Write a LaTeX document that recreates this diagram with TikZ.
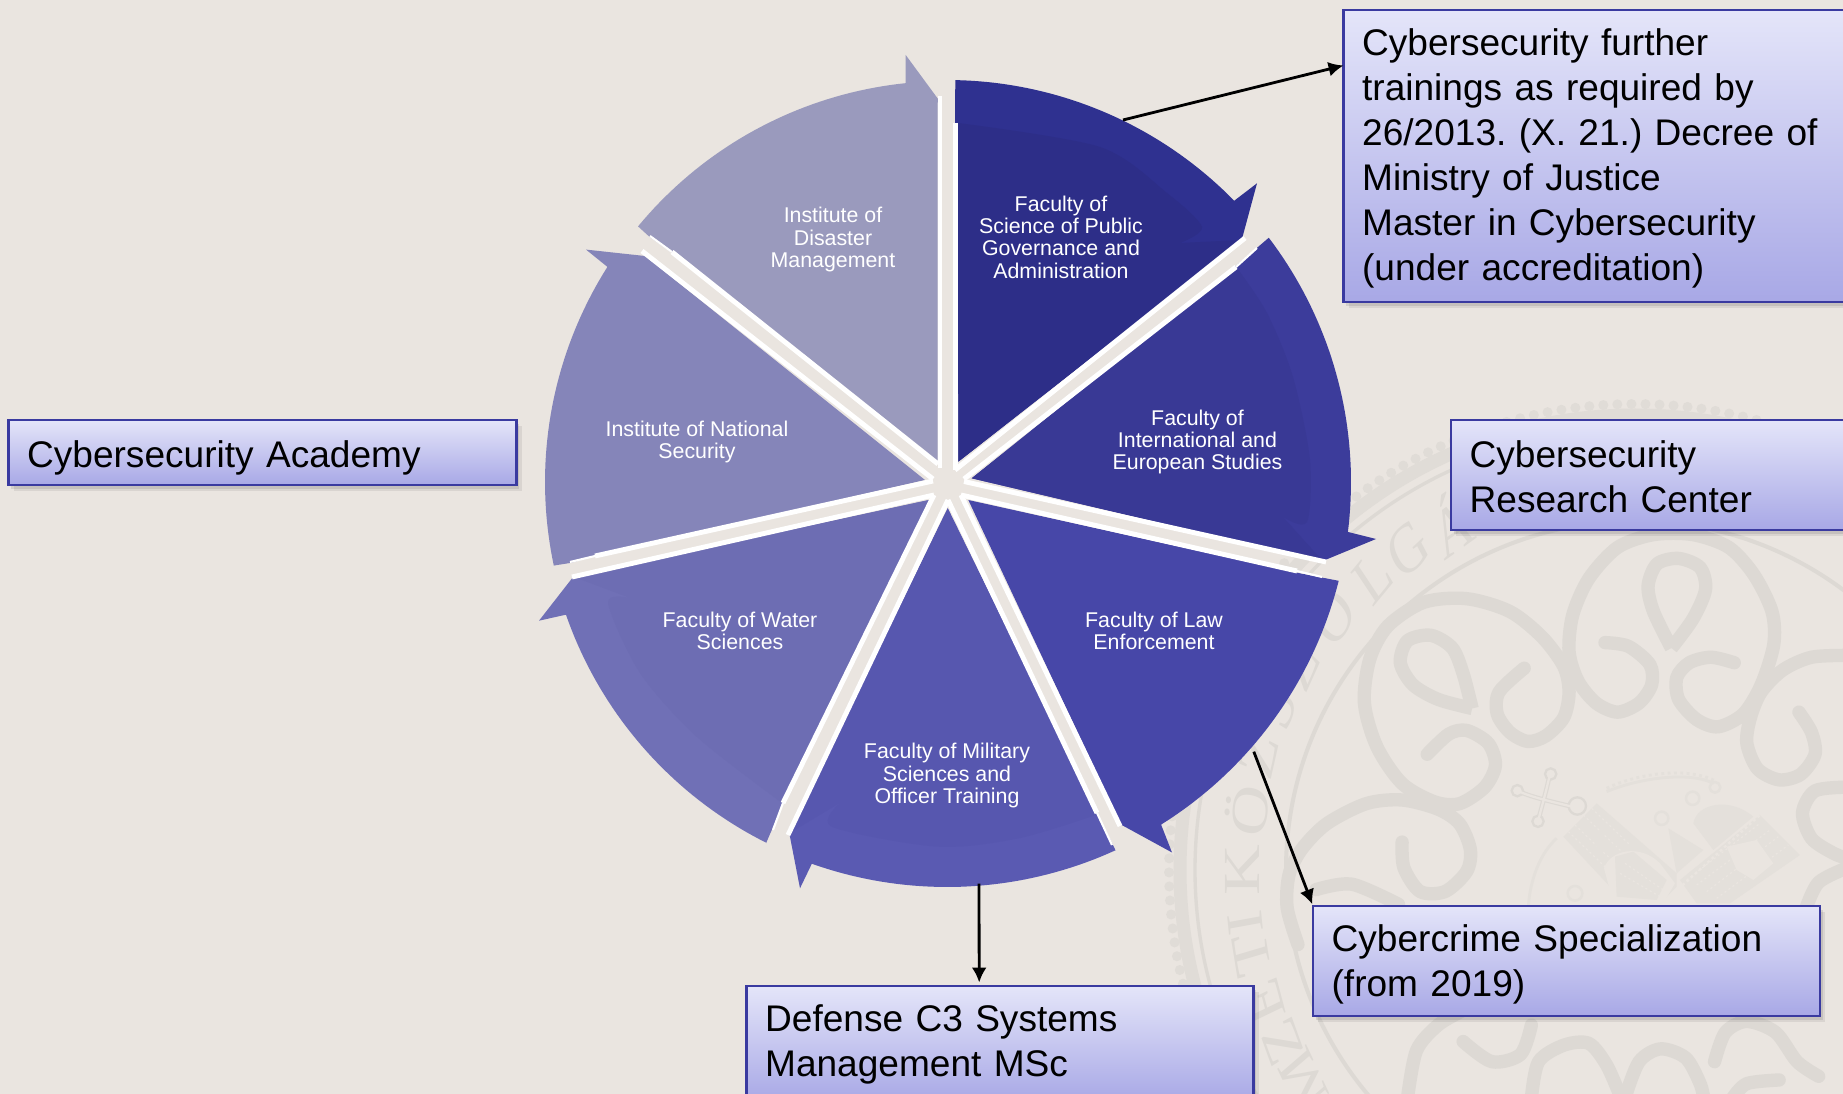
\documentclass[tikz,border=0pt]{standalone}
\usepackage{fontspec}
\setmainfont{Liberation Sans}
\newfontfamily\sealfont{Liberation Serif}
\usetikzlibrary{arrows.meta,calc}
\definecolor{bgc}{HTML}{EAE5E0}
\definecolor{sealc}{HTML}{DDD9D4}
\definecolor{bandc}{HTML}{E0DCD7}
\definecolor{crownc}{HTML}{E4E0DB}
\definecolor{segA}{HTML}{2F3190}\definecolor{segAi}{HTML}{2D2E88}
\definecolor{segB}{HTML}{3C3C9B}\definecolor{segBi}{HTML}{393995}
\definecolor{segC}{HTML}{4747A8}
\definecolor{segD}{HTML}{5A5AB2}\definecolor{segDi}{HTML}{5757AF}
\definecolor{segE}{HTML}{7070B6}\definecolor{segEi}{HTML}{6D6DB3}
\definecolor{segF}{HTML}{8585B9}
\definecolor{segG}{HTML}{9A9ABD}
\definecolor{boxline}{HTML}{3A3AA0}
\definecolor{boxtop}{HTML}{E4E5F9}
\definecolor{boxbot}{HTML}{A8A8E6}
\tikzset{
  bluebox/.style 2 args={rectangle,anchor=north west,outer sep=0pt,inner ysep=0pt,inner xsep=10.6pt,
    minimum width=#1*0.02cm,minimum height=#2*0.02cm,text width=#1*0.02cm-21.2pt,align=left,
    font=\fontsize{21.1}{25.6}\selectfont\frenchspacing,text=black,
    draw=boxline,line width=1.4pt,top color=boxtop,bottom color=boxbot,
    preaction={fill=black,fill opacity=.07,draw=none,transform canvas={shift={(3pt,-3.6pt)}}},
    preaction={fill=black,fill opacity=.09,draw=none,transform canvas={shift={(1.6pt,-2.2pt)}}}},
  seglabel/.style={align=center,text=white,inner sep=0pt,font=\fontsize{12.15}{12.7}\selectfont},
  strip/.style={draw=white,line width=2.8pt},
  thinstrip/.style={draw=white,line width=1.2pt},
  link/.style={draw=black,line width=1.6pt,-{Latex[length=8.5pt,width=8.5pt]}},
  curl/.style={draw=sealc,line width=7.6pt,line cap=round,line join=round},
  drop/.style={draw=sealc,line width=7.6pt,line join=miter},
  sealletter/.style={text=sealc,inner sep=0pt,font=\fontsize{40}{40}\sealfont,xscale=.74,transform shape}
}
\begin{document}
\begin{tikzpicture}[x=0.02cm,y=-0.02cm]
\useasboundingbox (0,0) rectangle (1843,1094);
\clip (0,0) rectangle (1843,1094);
\fill[bgc] (0,0) rectangle (1843,1094);
% ---- seal watermark
\draw[bandc,line width=5.7pt,dash pattern=on 0pt off 8pt,line cap=round] (1635,870) circle (466);
\draw[bandc,line width=7.4pt] (1635,870) circle (455);
\draw[sealc,line width=1.9pt] (1635,870) circle (440);
\draw[sealc,line width=2.3pt] (1635,870) circle (349);
\foreach \l/\a in {M/212.5,Z/206,E/199.6,T/192.4,I/187.7,K/180,Ö/171.2,Z/163,S/155.5,Z/148.6,O/140,L/131.9,G/125.3,Á/118}{
  \node[sealletter,rotate=\a-90] at ({1635+393*cos(\a)},{870-393*sin(\a)}) {\l};
}
\begin{scope}[shift={(1280,520)},xscale=0.3591,yscale=0.3660]
\draw[curl] plot[smooth] coordinates {(410,640)(470,585)(520,575)(580,610)(600,670)(570,730)(500,775)(430,770)(340,720)(270,620)(235,500)(250,380)(300,290)(400,225)(520,215)(640,250)(730,320)(790,400)(805,470)(790,540)(740,590)(690,605)(640,580)(605,530)(610,470)(680,405)};
\draw[drop] plot[smooth] coordinates {(535,515)(440,490)(370,450)(335,390)(355,330)(420,315)(480,350)(510,420)(535,515)};
\draw[curl] plot[smooth] coordinates {(905,335)(970,345)(1030,395)(1035,450)(1000,500)(940,525)(880,500)(830,440)(805,360)(815,260)(860,160)(940,75)(1040,40)(1150,40)(1250,75)(1320,150)(1370,250)(1375,340)(1340,450)(1290,530)(1220,565)(1160,545)(1110,490)(1105,430)(1140,390)(1200,375)(1265,390)};
\draw[drop] plot[smooth] coordinates {(1090,350)(1040,250)(1025,180)(1050,120)(1110,105)(1170,130)(1185,190)(1150,270)(1090,350)};
\draw[curl] plot[smooth] coordinates {(1445,525)(1480,580)(1490,640)(1450,695)(1390,710)(1330,680)(1300,610)(1310,540)(1340,470)(1400,410)(1480,375)(1580,370)};
\draw[curl] plot[smooth] coordinates {(1580,730)(1490,740)(1455,800)(1480,870)(1540,910)(1580,925)};
\draw[curl] plot[smooth] coordinates {(1580,950)(1500,990)(1465,1060)};
\draw[curl] plot[smooth] coordinates {(340,880)(345,950)(390,1015)(460,1015)(520,960)(530,900)(500,830)(440,790)(340,765)(240,775)(130,830)(60,900)(25,970)(20,1060)(50,1160)};
\draw[curl] plot[smooth] coordinates {(100,1010)(200,995)(330,1050)};
\draw[curl] plot[smooth] coordinates {(510,1425)(590,1480)(670,1460)(700,1380)};
\draw[curl] plot[smooth] coordinates {(355,1580)(380,1450)(440,1380)(510,1340)};
\draw[curl] plot[smooth] coordinates {(700,1580)(720,1480)(790,1435)(860,1430)(910,1490)(950,1580)};
\draw[curl] plot[smooth] coordinates {(960,1580)(1000,1480)(1060,1445)(1130,1470)(1170,1540)(1180,1580)};
\draw[curl] plot[smooth] coordinates {(1210,1480)(1240,1400)(1300,1370)(1380,1400)(1440,1480)(1500,1520)};
\draw[curl] plot[smooth] coordinates {(1260,1580)(1300,1540)(1390,1530)};
\end{scope}
% crown and cross
\begin{scope}[shift={(1500,740)},scale=0.3333]
\draw[sealc,line width=2.6pt,line cap=round] (52,152)..controls (100,175) and (180,190)..(235,205);
\draw[sealc,line width=2.6pt,line cap=round] (150,100)..controls (140,150) and (125,200)..(114,244);
\draw[sealc,line width=1.3pt,fill=bgc] (52,152) circle (17) (232,198) circle (26) (152,102) circle (17) (114,244) circle (17);
\draw[bgc,line width=1.3pt,line cap=round] (52,152)..controls (100,175) and (180,190)..(235,205);
\draw[bgc,line width=1.3pt,line cap=round] (150,100)..controls (140,150) and (125,200)..(114,244);
\fill[crownc] (190,290)--(290,190)--(530,400)--(530,440)--(480,490)--(330,440)--cycle;
\fill[bgc] (312,385)..controls (330,330) and (420,310)..(480,370)--(525,430)--(490,490)--(340,490)--cycle;
\fill[crownc] (345,350)--(400,335)--(500,420)--(470,480)--(350,470)--cycle;
\fill[crownc] (540,420)--(780,225)--(900,345)--(690,490)--(590,490)--cycle;
\fill[crownc] (505,265)--(610,330)--(530,400)--cycle;
\fill[crownc] (580,250)..controls (590,190) and (690,170)..(760,230)--(640,330)--cycle;
\fill[bgc] (680,320)--(770,300)--(820,370)--(760,420)--(710,390)--cycle;
\foreach \sx/\sy/\ex/\ey in {205/275/320/385,225/255/340/365,250/225/365/335,275/205/390/315,360/400/480/470,375/370/490/450,560/420/780/250,590/435/810/270,620/455/835/290,650/475/865/315}{
  \draw[bgc,line width=.7pt,dash pattern=on 1.2pt off 1.6pt] (\sx,\sy) -- (\ex,\ey);
}
\draw[bgc,line width=1.4pt,dash pattern=on 1.6pt off 1.6pt] (510,470) -- (780,225);
\draw[crownc,line width=1.6pt] (320,155)..controls (400,120) and (560,90)..(640,130);
\draw[crownc,line width=1.6pt,dotted] (320,145)..controls (400,105) and (560,75)..(650,125);
\draw[crownc,line width=1.6pt] (170,295)..controls (120,340) and (90,420)..(85,500);
\draw[crownc,line width=1.4pt] (485,235) circle (20) (578,175) circle (20) (645,142) circle (16) (225,460) circle (22) (318,305) circle (28);
\end{scope}
% ---- wheel segments
\fill[segA] (955,123) -- (955.3,81) -- plot[domain=88.8:44.4,samples=40] ({947+402*cos(\x)},{482-402*sin(\x)}) -- (1257,183.3) -- (1241.7,240) -- (958.3,461.7) -- (958,123) -- cycle;
\fill[segAi] (958.3,461.7) -- plot[smooth] coordinates {(958,123)(1100,147)(1167,193)(1202,227)(1180,243)} -- (1241.7,240) -- cycle;
\fill[segB] (971.7,478.3) -- (1235,266.7) -- (1267.3,239) -- plot[domain=37.2:-7.1,samples=40] ({947+404*cos(\x)},{482-404*sin(\x)}) -- (1376,539) -- (1322.7,561) -- cycle;
\fill[segBi] (971.7,478.3) -- plot[smooth] coordinates {(1237,268)(1267,313)(1293,377)(1310,460)(1307,522)(1283,517)} -- (1322.7,561) -- cycle;
\fill[segC] (968.3,500) -- (1297.3,572.8) -- (1338.7,580.8) -- plot[domain=-14.2:-58,samples=40] ({947+404*cos(\x)},{482-404*sin(\x)}) -- (1172,852.5) -- (1121,824.6) -- cycle;
\fill[segD] (947.7,508.3) -- (1097,812.6) -- (1115.6,850.5) -- plot[domain=-65.4:-109.5,samples=40] ({947+405*cos(\x)},{482-405*sin(\x)}) -- (800,888.3) -- (789.3,833.3) -- cycle;
\fill[segDi] (947.7,508.3) -- (1097,812.6) -- plot[smooth] coordinates {(1097,814.6)(1020,838)(938,846.7)(831.7,826.7)(841.7,801.7)} -- (789.3,833.3) -- cycle;
\fill[segE] (929,500) -- (783.3,803.3) -- (766,843.3) -- plot[domain=243.4:199.2,samples=40] ({947+403.5*cos(\x)},{482-403.5*sin(\x)}) -- (539,620.7) -- (573.3,576.7) -- cycle;
\fill[segEi] (929,500) -- (783.3,803.3) -- plot[smooth] coordinates {(782,803)(697,737)(640,673)(608,603)(630,598)} -- (573.3,576.7) -- cycle;
\fill[segF] (925,480) -- (645,256) -- (586,249.6) -- (607.3,266.8) -- plot[domain=147.6:192,samples=40] ({947+402*cos(\x)},{482-402*sin(\x)}) -- (570,563) -- (595,556) -- cycle;
\fill[segG] (937.7,461.4) -- (937.7,102.5) -- (939.3,100.7) -- (905.7,55) -- (905.7,82.9) -- plot[domain=95.9:140.4,samples=40] ({947+401*cos(\x)},{482-401*sin(\x)}) -- (649,236.4) -- (671.7,252.5) -- cycle;
% ---- white separators
\draw[strip] (955.5,123) -- (955.5,470);
\draw[strip] (955,470) -- (1245,238);
\draw[strip] (964,479) -- (1236,267);
\draw[thinstrip] (1236,267) -- (1257,248);
\draw[strip] (964,481.5) -- (1326,562);
\draw[strip] (961,495) -- (1297,571);
\draw[thinstrip] (1297,571) -- (1322,577);
\draw[strip] (961,495) -- (1120,826);
\draw[strip] (948,500) -- (1097,813);
\draw[thinstrip] (1097,813) -- (1112,845);
\draw[strip] (948,500) -- (788,835);
\draw[strip] (934,495) -- (783,803);
\draw[thinstrip] (783,803) -- (773,830);
\draw[strip] (934,495) -- (572,577);
\draw[strip] (933,481) -- (595,556);
\draw[thinstrip] (595,556) -- (570,562);
\draw[strip] (933,479) -- (642,251);
\draw[strip] (938,464) -- (672,252);
\draw[thinstrip] (672,252) -- (650,236);
\draw[strip] (940,468) -- (940,96);
% ---- segment labels
\node[seglabel] (fa) at (1061,237) {Faculty of\\Science of Public\\Governance and\\Administration};
\node[seglabel] (fb) at (1197.5,441.9) {Faculty of\\International and\\European Studies};
\node[seglabel] (fc) at (1154,630.6) {Faculty of Law\\Enforcement};
\node[seglabel] (fd) at (947,775.5) {Faculty of Military\\Sciences and\\Officer Training};
\node[seglabel] (fe) at (740,630.6) {Faculty of Water\\Sciences};
\node[seglabel] (ff) at (697,442) {Institute of National\\Security};
\node[seglabel] (fg) at (833,239.7) {Institute of\\Disaster\\Management};
% ---- boxes
\node[bluebox={517}{292}] (further) at (1343.5,10) {\rule{0pt}{18.4pt}Cybersecurity further\\trainings as required by\\26/2013. (X. 21.) Decree of\\Ministry of Justice\\Master in Cybersecurity\\(under accreditation)};
\node[bluebox={412}{110}] (research) at (1451,420) {\rule{0pt}{16.9pt}Cybersecurity\\Research Center};
\node[bluebox={508}{65}] (academy) at (8.5,420) {\rule{0pt}{21.3pt}Cybersecurity Academy};
\node[bluebox={507}{110}] (crime) at (1313,906) {\rule{0pt}{19pt}Cybercrime Specialization\\(from 2019)};
\node[bluebox={507}{116}] (defense) at (746.5,986) {Defense C3 Systems\\Management MSc};
% ---- connectors
\coordinate (fromA) at (1123,120);
\coordinate (fromC) at (1253.8,751.7);
\coordinate (fromD) at (979,883.6);
\draw[link] (fromA) -- ($(further.north west)!0.19!(further.south west)$);
\draw[link,shorten >=1pt] (fromC) -- (crime.north west);
\draw[link,shorten >=2pt] (fromD) -- ($(defense.north west)!0.459!(defense.north east)$);
\end{tikzpicture}
\end{document}
